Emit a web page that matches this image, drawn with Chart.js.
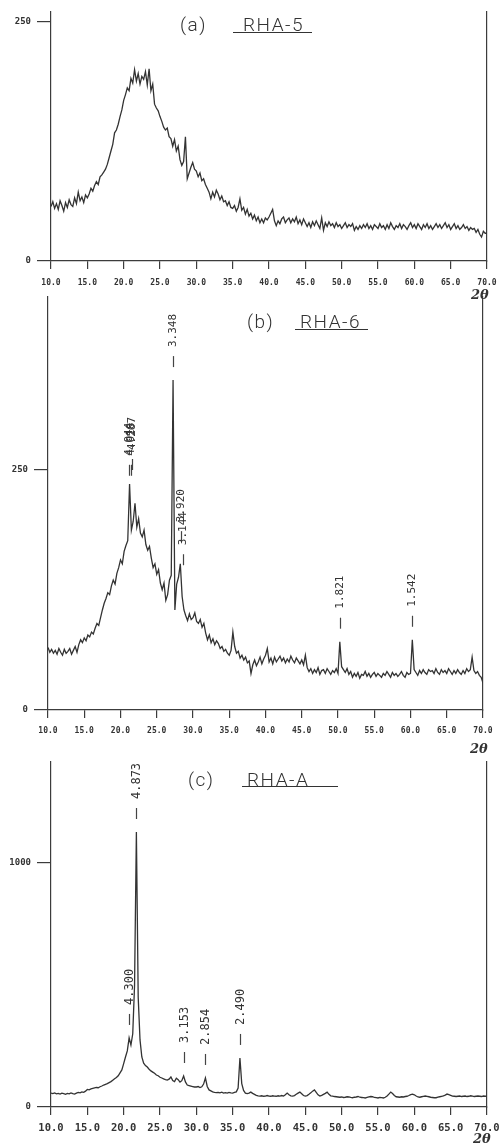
<!DOCTYPE html>
<html><head><meta charset="utf-8">
<script src="https://cdn.jsdelivr.net/npm/chart.js@4.4.0/dist/chart.umd.min.js"></script>
<style>
html,body{margin:0;padding:0;background:#fff;}
#wrap{position:relative;width:500px;height:1143px;overflow:hidden;background:#fff;}
canvas{position:absolute;left:0;}
.t{position:absolute;font-family:Roboto,'DejaVu Sans',sans-serif;font-weight:300;color:#333;white-space:nowrap;line-height:1;font-size:19px;letter-spacing:1.5px;}
.u{position:absolute;border-bottom:1.3px solid #333;}
.tt{position:absolute;font-family:'DejaVu Serif',serif;font-weight:bold;font-style:italic;font-size:13px;color:#333;line-height:1;}
</style>
</head><body>
<div id="wrap">
<canvas id="cA" width="500" height="300" style="top:0px"></canvas>
<canvas id="cB" width="500" height="465" style="top:285px"></canvas>
<canvas id="cC" width="500" height="393" style="top:750px"></canvas>
<div class="t" style="left:180px;top:15px">(a)</div>
<div class="t" style="left:243px;top:15px">RHA-5</div>
<div class="u" style="left:233px;top:32px;width:79px"></div>
<div class="t" style="left:247px;top:312px">(b)</div>
<div class="t" style="left:300px;top:312px">RHA-6</div>
<div class="u" style="left:295px;top:329px;width:73px"></div>
<div class="t" style="left:188px;top:770px">(c)</div>
<div class="t" style="left:247px;top:770px">RHA-A</div>
<div class="u" style="left:242px;top:786px;width:96px"></div>
<div class="tt" style="left:471px;top:288px">2θ</div>
<div class="tt" style="left:470px;top:742px">2θ</div>
<div class="tt" style="left:473px;top:1132px">2θ</div>
</div>
<script>
// 2θ grid: start and step (degrees)
const TTH_START = 10, TTH_STEP = 0.25;
const twoThetaTicks = [10, 15, 20, 25, 30, 35, 40, 45, 50, 55, 60, 65, 70];

// (a) RHA-5 intensities, 0.25° steps, rows = 10°,11°,...
const rha5 = [
57,62,55,60, 54,63,58,52, 61,56,64,59, 57,66,60,72, 63,67,61,69,
66,70,76,73, 79,83,80,88, 90,93,96,101, 108,115,122,134, 137,143,151,158,
168,174,181,178, 191,186,200,188, 196,185,193,190, 198,184,201,178, 185,164,160,157,
151,146,140,137, 139,130,128,120, 127,115,120,106, 100,104,130,86, 92,98,103,96,
94,88,92,84, 86,80,76,72, 65,72,67,74, 70,64,68,62, 63,58,62,56,
55,58,52,56, 65,53,56,49, 54,47,50,44, 48,42,46,40, 44,40,45,43,
46,50,54,42, 37,42,39,44, 46,40,43,45, 40,44,41,46, 39,43,38,44,
40,36,40,35, 41,37,42,38, 34,45,32,40, 36,41,37,39, 35,40,36,38,
34,37,40,35, 38,36,39,32, 36,33,37,34, 38,35,39,34, 37,33,38,36,
34,39,35,37, 33,38,34,40, 36,33,37,35, 39,34,38,36, 33,37,40,35,
38,34,39,36, 33,38,35,39, 34,37,33,36, 39,35,38,34, 37,40,35,38,
33,36,39,34, 37,33,35,38, 34,36,32,35, 33,34,30,33, 28,25,31,29,
29];

// (b) RHA-6 intensities
const rha6 = [
65,60,63,59, 62,58,64,60, 57,63,59,61, 64,58,62,66, 60,68,73,70,
75,72,78,76, 81,79,85,90, 88,96,104,111, 116,122,120,129, 135,131,142,148,
156,152,165,171, 176,235,187,196, 215,190,199,184, 180,187,172,166, 170,158,148,152,
141,146,132,125, 132,114,120,135, 140,343,104,131, 138,152,118,104, 98,93,100,94,
96,101,92,90, 94,86,90,80, 73,78,70,74, 68,72,69,64, 66,61,63,59,
57,62,81,66, 59,61,54,57, 52,55,49,51, 38,47,52,46, 50,55,48,53,
57,64,50,54, 48,55,50,53, 56,51,54,49, 53,50,56,52, 49,54,51,48,
52,47,57,44, 40,43,38,42, 39,44,37,41, 42,38,43,40, 37,41,39,43,
38,71,45,42, 39,43,37,40, 34,38,35,39, 33,37,36,40, 35,38,34,37,
39,35,38,36, 34,38,36,40, 37,34,39,36, 38,35,37,40, 36,34,39,37,
38,73,42,39, 36,41,38,42, 39,37,42,40, 41,38,43,39, 37,42,39,41,
38,43,40,37, 41,38,42,39, 37,41,38,43, 40,42,55,41, 38,40,36,34,
28];

// (c) RHA-A intensities
const rhaA = [
57,55,58,54, 56,53,57,55, 52,56,54,58, 55,53,57,60, 58,62,60,65,
72,70,74,76, 78,80,79,83, 86,90,93,96, 100,104,110,116, 121,128,140,152,
178,205,230,283, 254,300,500,1127, 450,275,205,180, 170,164,155,148, 143,138,131,128,
122,119,115,112, 110,114,123,108, 104,118,112,102, 108,127,103,90, 88,86,84,82,
82,84,80,83, 94,119,84,70, 66,62,60,59, 60,58,61,57, 59,57,60,58,
57,60,62,78, 201,96,68,57, 55,57,61,56, 52,48,46,45, 46,44,45,47,
45,44,46,45, 44,46,45,47, 45,50,57,50, 46,45,47,52, 57,61,54,47,
45,47,52,58, 65,70,60,50, 45,48,52,56, 61,52,46,45, 43,42,41,40,
41,39,40,42, 41,39,38,40, 41,43,40,39, 38,37,39,41, 43,42,39,38,
37,39,38,37, 40,45,53,61, 55,47,42,41, 40,42,41,43, 44,47,51,53,
50,45,41,40, 42,44,45,44, 42,40,39,38, 38,40,42,44, 46,49,53,51,
48,45,44,43, 44,45,43,44, 45,43,44,46, 45,43,44,45, 44,43,45,44,
45];

// y-axis tick values
const yTicksA = [0, 250];
const yTicksB = [0, 250];
const yTicksC = [0, 1000];

// peak labels (d-spacings): 2θ position, intensity anchor, text
const peakPosB = [21.2, 21.45, 21.65, 27.25, 28.3, 28.6, 50.25, 60.25];
const peakCntB = [230, 230, 236, 343, 161, 137, 71, 73];
const peakTxtB = ['4.044', '4.018', '4.267', '3.348', '3.920', '3.144', '1.821', '1.542'];

const peakPosC = [21.75, 20.75, 28.25, 31.25, 36.0];
const peakCntC = [1127, 283, 127, 119, 201];
const peakTxtC = ['4.873', '4.300', '3.153', '2.854', '2.490'];

const AX = '#3c3c3c';
const MONO = '"DejaVu Sans Mono", "Liberation Mono", monospace';

function peakPlugin(pos, cnt, txt, fs) {
  return {
    id: 'peaks',
    afterDatasetsDraw(chart) {
      const ctx = chart.ctx, xs = chart.scales.x, ys = chart.scales.y;
      ctx.save();
      ctx.strokeStyle = '#444'; ctx.lineWidth = 1.2; ctx.fillStyle = '#333';
      ctx.font = fs + 'px ' + MONO;
      pos.forEach((p, i) => {
        const px = Math.round(xs.getPixelForValue(p)) + 0.5;
        const py = ys.getPixelForValue(cnt[i]);
        const m0 = py - 13, m1 = m0 - 11;
        ctx.beginPath(); ctx.moveTo(px, m0); ctx.lineTo(px, m1); ctx.stroke();
        ctx.save();
        ctx.translate(px, m1 - 9);
        ctx.rotate(-Math.PI / 2);
        ctx.textAlign = 'left'; ctx.textBaseline = 'middle';
        ctx.fillText(txt[i], 0, 0);
        ctx.restore();
      });
      ctx.restore();
    }
  };
}

function makeChart(id, vals, cfg) {
  const pts = vals.map((v, i) => ({ x: TTH_START + i * TTH_STEP, y: v }));
  const H = cfg.height;
  return new Chart(document.getElementById(id), {
    type: 'line',
    data: { datasets: [{ data: pts, borderColor: '#333', borderWidth: 1.3, pointRadius: 0, tension: 0, fill: false }] },
    options: {
      responsive: false, animation: false, events: [],
      layout: { padding: { top: cfg.top, right: 500 - cfg.right, left: 0, bottom: 0 } },
      plugins: { legend: { display: false }, tooltip: { enabled: false }, title: { display: false } },
      scales: {
        x: {
          type: 'linear', min: 10, max: 70,
          afterBuildTicks: s => { s.ticks = twoThetaTicks.map(v => ({ value: v })); },
          afterFit: s => { s.height = H - cfg.bottom; s.paddingLeft = 0; s.paddingRight = 0; },
          grid: { display: true, drawOnChartArea: false, drawTicks: true, tickLength: 8, color: AX, lineWidth: 1.2 },
          border: { display: true, color: AX, width: 1.2, dash: cfg.dash || [] },
          ticks: { font: { family: MONO, size: cfg.xfs, weight: 'bold' }, color: '#333', padding: cfg.xpad, maxRotation: 0, autoSkip: false, callback: v => Number(v).toFixed(1) }
        },
        y: {
          type: 'linear', position: 'left', min: 0, max: cfg.ymax,
          afterBuildTicks: s => { s.ticks = cfg.yticks.map(v => ({ value: v })); },
          afterFit: s => { s.width = cfg.left; },
          grid: { display: true, drawOnChartArea: false, drawTicks: true, tickLength: 14, color: AX, lineWidth: 1.2 },
          border: { display: true, color: AX, width: 1.2 },
          ticks: { font: { family: MONO, size: cfg.yfs, weight: 'bold' }, color: '#333', padding: 6, callback: v => String(v) }
        },
        y2: {
          type: 'linear', position: 'right', display: true,
          afterFit: s => { s.width = 0; },
          grid: { display: false }, ticks: { display: false },
          border: { display: true, color: AX, width: 1.2 }
        }
      }
    },
    plugins: cfg.peaks ? [peakPlugin(cfg.peaks[0], cfg.peaks[1], cfg.peaks[2], cfg.pfs)] : []
  });
}

makeChart('cA', rha5, { height: 300, top: 5, bottom: 261, left: 51, right: 487, ymax: 261, yticks: yTicksA, xfs: 8, yfs: 9, xpad: 9 });
makeChart('cB', rha6, { height: 465, top: 10, bottom: 425, left: 48, right: 483, ymax: 430, yticks: yTicksB, xfs: 8, yfs: 9, xpad: 8,
  peaks: [peakPosB, peakCntB, peakTxtB], pfs: 11 });
makeChart('cC', rhaA, { height: 393, top: 12, bottom: 357, left: 51, right: 487, ymax: 1414, yticks: yTicksC, xfs: 10.5, yfs: 9, xpad: 7, dash: [10, 3],
  peaks: [peakPosC, peakCntC, peakTxtC], pfs: 12 });
</script>
</body></html>
